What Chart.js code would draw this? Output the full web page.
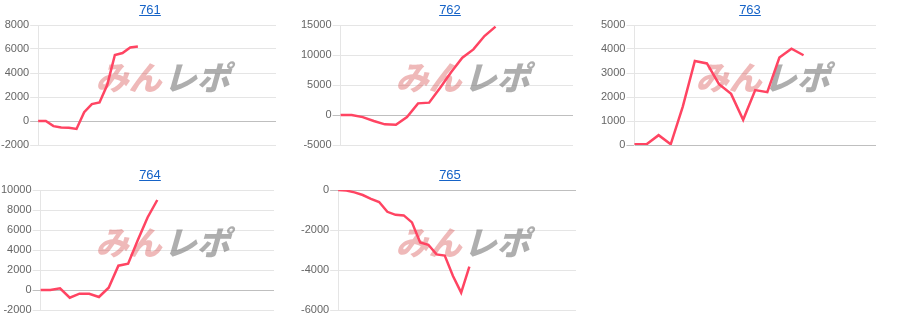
<!DOCTYPE html>
<html>
<head>
<meta charset="utf-8">
<script src="https://cdn.jsdelivr.net/npm/chart.js@4/dist/chart.umd.min.js"></script>
<style>
  body { margin: 0; background: #fff; font-family: "Liberation Sans", Arial, sans-serif; }
  #grid { position: relative; width: 900px; height: 330px; }
  .cell { position: absolute; width: 300px; height: 165px; }
  .cell canvas { position: absolute; left: 0; top: 0; }
  .cell .title { position: absolute; left: 0; top: 2px; width: 300px; text-align: center; font-size: 13px; line-height: 16px; z-index: 2; }
  .cell .title a { color: #1663c7; text-decoration: underline; }
</style>
</head>
<body>
<div id="grid"></div>
<script>
  const machines = ['761', '762', '763', '764', '765'];
  // number of x categories on each chart (labels are hidden)
  const labelCounts = [32, 22, 21, 25, 30];

  const series761 = [0, 0, -430, -545, -570, -665, 740, 1410, 1550, 3000, 5500, 5660, 6120, 6200];
  const series762 = [0, 0, -350, -1000, -1560, -1610, -330, 1940, 2060, 4535, 7170, 9550, 10930, 13160, 14730];
  const series763 = [30, 30, 410, 30, 1600, 3500, 3400, 2535, 2130, 1050, 2290, 2200, 3645, 4010, 3740];
  const series764 = [0, 0, 170, -770, -370, -370, -700, 230, 2430, 2630, 5000, 7250, 9000];
  const series765 = [0, -30, -120, -250, -440, -600, -1090, -1240, -1270, -1620, -2620, -2740, -3220, -3280, -4300, -5130, -3830];

  const yMin = [-2000, -5000, 0, -2000, -6000];
  const yMax = [8000, 15000, 5000, 10000, 0];
  const yStep = [2000, 5000, 1000, 2000, 2000];

  const allSeries = [series761, series762, series763, series764, series765];
  const rightPad = [24, 27, 24, 26, 24];

  const watermark = {
    id: 'watermark',
    beforeDatasetsDraw(chart) {
      const ctx = chart.ctx;
      ctx.save();
      ctx.font = '900 33px "Noto Sans CJK JP"';
      ctx.textBaseline = 'middle';
      const a = 'みん', b = 'レポ';
      const wa = ctx.measureText(a).width;
      const wb = ctx.measureText(b).width;
      const total = wa + wb + 2;
      ctx.translate(166, 77);
      ctx.transform(1, 0, -0.28, 1, 0, 0);
      ctx.fillStyle = 'rgba(214, 70, 70, 0.38)';
      ctx.fillText(a, -total / 2, 0);
      ctx.fillStyle = 'rgba(120, 120, 120, 0.6)';
      ctx.fillText(b, -total / 2 + wa + 2, 0);
      ctx.restore();
    }
  };

  function gridColor(c) {
    return c.tick && c.tick.value === 0 ? 'rgba(0,0,0,0.25)' : 'rgba(0,0,0,0.1)';
  }

  const grid = document.getElementById('grid');
  machines.forEach((name, i) => {
    const cell = document.createElement('div');
    cell.className = 'cell';
    cell.style.left = (i % 3) * 300 + 'px';
    cell.style.top = Math.floor(i / 3) * 165 + 'px';
    cell.innerHTML = '<div class="title"><a href="#">' + name + '</a></div>';
    const canvas = document.createElement('canvas');
    canvas.width = 300;
    canvas.height = 165;
    cell.appendChild(canvas);
    grid.appendChild(cell);

    const labels = Array.from({ length: labelCounts[i] }, (_, k) => String(k + 1));

    new Chart(canvas.getContext('2d'), {
      type: 'line',
      data: {
        labels: labels,
        datasets: [{
          data: allSeries[i],
          borderColor: 'rgb(255, 68, 98)',
          backgroundColor: 'transparent',
          borderWidth: 2.5,
          pointRadius: 0,
          tension: 0,
          fill: false
        }]
      },
      options: {
        responsive: false,
        animation: false,
        layout: { padding: { top: 25, right: rightPad[i], bottom: 12, left: 0 } },
        plugins: {
          legend: { display: false },
          tooltip: { enabled: false }
        },
        scales: {
          x: {
            ticks: { display: false },
            grid: { display: false },
            border: { display: false }
          },
          y: {
            min: yMin[i],
            max: yMax[i],
            ticks: {
              stepSize: yStep[i],
              padding: 1,
              color: '#666',
              font: { size: 11, family: '"Liberation Sans", Arial, sans-serif' },
              callback: v => String(v)
            },
            grid: { color: gridColor },
            border: { color: 'rgba(0,0,0,0.1)' }
          }
        }
      },
      plugins: [watermark]
    });
  });
</script>
</body>
</html>
